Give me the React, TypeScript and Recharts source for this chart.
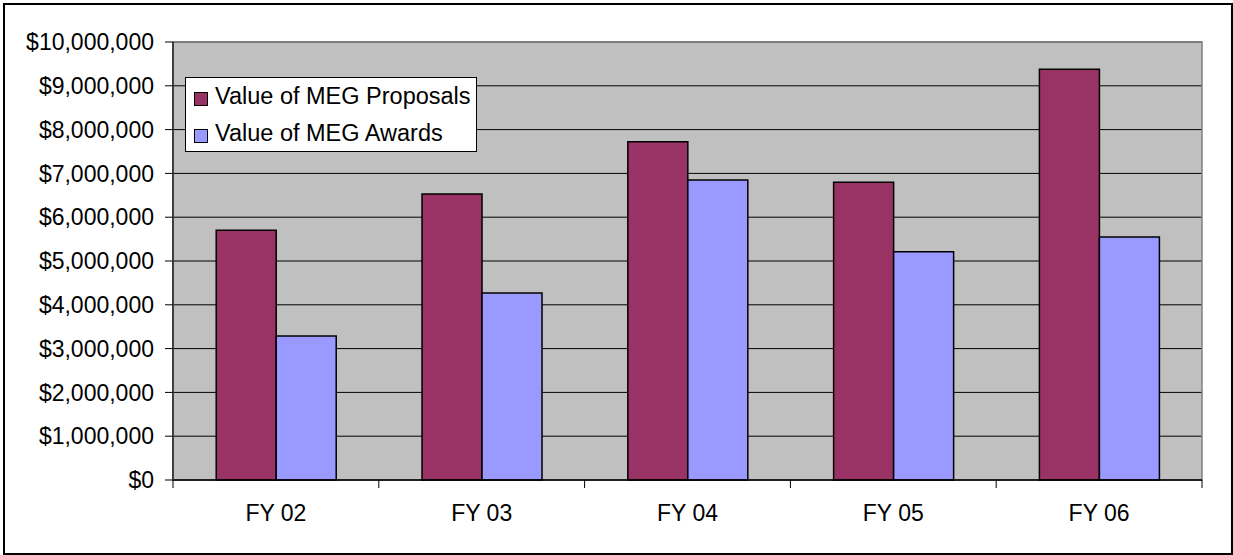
import React from 'react';
import { BarChart, Bar, XAxis, YAxis, CartesianGrid, Legend, ReferenceArea } from 'recharts';

const categories = ['FY 02', 'FY 03', 'FY 04', 'FY 05', 'FY 06'];
const proposals = [5700000, 6530000, 7720000, 6800000, 9380000];
const awards = [3290000, 4270000, 6850000, 5210000, 5550000];
const yTicks = [0, 1000000, 2000000, 3000000, 4000000, 5000000, 6000000, 7000000, 8000000, 9000000, 10000000];
const seriesNames = ['Value of MEG Proposals', 'Value of MEG Awards'];
const colors = ['#993366', '#9999FF'];

const data = categories.map((c, i) => ({ year: c, proposals: proposals[i], awards: awards[i] }));

const FONT = '"Liberation Sans", Arial, sans-serif';

const fmt = (v: number) => '$' + v.toLocaleString('en-US');

const XTick = (props: any) => {
  const { x, y, payload, index } = props;
  const half = typeof payload.offset === 'number' ? payload.offset : 0;
  const isLast = index === categories.length - 1;
  return (
    <g>
      <line x1={x - half} x2={x - half} y1={y} y2={y + 8} stroke="#000" strokeWidth={1} />
      {isLast && <line x1={x + half} x2={x + half} y1={y} y2={y + 8} stroke="#000" strokeWidth={1} />}
      <text x={x} y={y + 41} textAnchor="middle" fontSize={23} fontFamily={FONT} fill="#000">
        {payload.value}
      </text>
    </g>
  );
};

const LegendBox = () => (
  <div
    style={{
      width: 292,
      height: 75,
      boxSizing: 'border-box',
      border: '1px solid #000',
      background: '#fff',
      fontFamily: FONT,
      fontSize: 23.5,
      paddingTop: 2,
      paddingLeft: 8,
      whiteSpace: 'nowrap',
    }}
  >
    {seriesNames.map((n, i) => (
      <div key={n} style={{ display: 'flex', alignItems: 'center', height: 33, marginBottom: i === 0 ? 4 : 0 }}>
        <span
          style={{
            display: 'inline-block',
            width: 12,
            height: 12,
            background: colors[i],
            border: '1px solid #000',
            marginRight: 7,
            marginTop: 4,
            flexShrink: 0,
          }}
        />
        <span style={{ color: '#000' }}>{n}</span>
      </div>
    ))}
  </div>
);

export default function App() {
  return (
    <div style={{ position: 'absolute', left: 0, top: 0, width: 1233, height: 555, background: '#fff' }}>
      <BarChart
        width={1233}
        height={555}
        data={data}
        margin={{ top: 42, right: 31, bottom: 15, left: 0 }}
        barCategoryGap="21%"
        barGap={0}
      >
        <CartesianGrid vertical={false} fill="#C0C0C0" stroke="#000" strokeWidth={1} />
        <XAxis
          dataKey="year"
          interval={0}
          height={60}
          tickSize={0}
          tickMargin={0}
          tickLine={false}
          axisLine={{ stroke: '#000', strokeWidth: 1.5 }}
          tick={<XTick />}
        />
        <YAxis
          domain={[0, 10000000]}
          ticks={yTicks}
          interval={0}
          width={173}
          tickSize={8}
          tickMargin={11}
          tickFormatter={fmt}
          tick={{ fontSize: 23, fontFamily: FONT, fill: '#000' }}
          tickLine={{ stroke: '#000' }}
          axisLine={{ stroke: '#404040', strokeWidth: 2 }}
        />
        <ReferenceArea y1={0} y2={10000000} fill="none" fillOpacity={0} stroke="#808080" strokeWidth={1.5} />
        <Bar dataKey="proposals" name={seriesNames[0]} fill={colors[0]} stroke="#000" strokeWidth={1.5} isAnimationActive={false} />
        <Bar dataKey="awards" name={seriesNames[1]} fill={colors[1]} stroke="#000" strokeWidth={1.5} isAnimationActive={false} />
        <Legend
          layout="vertical"
          align="center"
          verticalAlign="middle"
          content={<LegendBox />}
          wrapperStyle={{ position: 'absolute', left: 185, top: 77, width: 292, height: 75 }}
        />
      </BarChart>
      <div
        style={{
          position: 'absolute',
          left: 3,
          top: 3,
          width: 1230,
          height: 552,
          boxSizing: 'border-box',
          border: '2px solid #000',
          pointerEvents: 'none',
        }}
      />
    </div>
  );
}
